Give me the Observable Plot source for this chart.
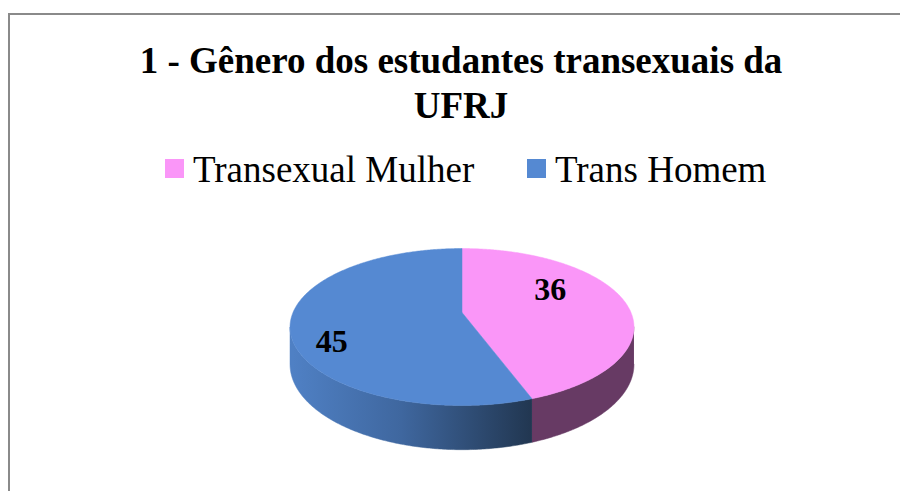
<!DOCTYPE html>
<html>
<head>
<meta charset="utf-8">
<script src="https://cdn.jsdelivr.net/npm/d3@7"></script>
<script src="https://cdn.jsdelivr.net/npm/@observablehq/plot@0.6"></script>
<style>
  html, body { margin: 0; padding: 0; background: #fff; overflow: hidden; }
  #page { position: relative; width: 900px; height: 491px; overflow: hidden; }
  #frame { position: absolute; left: 8px; top: 13px; width: 1000px; height: 600px;
           border-left: 2px solid #8a8a8a; border-top: 2px solid #8a8a8a; box-sizing: border-box; }
  #title { position: absolute; left: 0; width: 922px; top: 38px; text-align: center;
           font-family: "Liberation Serif", "Times New Roman", serif; font-weight: bold;
           font-size: 37px; line-height: 45px; color: #000; }
  #legend { position: absolute; top: 150px; left: 0; width: 900px; height: 40px;
            font-family: "Liberation Serif", "Times New Roman", serif; font-size: 37px; color: #000; }
  .sw { position: absolute; width: 19px; height: 19px; top: 9px; }
  .lab { position: absolute; top: 0; line-height: 40px; white-space: nowrap; }
  #chart { position: absolute; left: 0; top: 0; }
</style>
</head>
<body>
<div id="page">
  <div id="frame"></div>
  <div id="title"></div>
  <div id="legend"></div>
  <div id="chart"></div>
</div>
<script>
// ---- data ----
const categories = ["Transexual Mulher", "Trans Homem"];
const values = [36, 45];
const titleLines = ["1 - Gênero dos estudantes transexuais da", "UFRJ"];

// ---- styles / layout ----
const topColors = ["#fa96f8", "#5589d2"];
const sideColors = ["#673a64", "url(#blueSide)"];
const cx = 461.5, cy = 312, R = 169, Rt = 75.8;  // screen centre, radius, tilted radius
const k = 0.185;        // perspective strength (back of the pie is farther)
const h = 0.475;        // side height, in tilted-radius units
const labelOffsets = [[-13, -15], [-25, 21]];

// title
document.getElementById("title").innerHTML = titleLines.join("<br>");

// legend
const legendPos = [{sw: 165, text: 193}, {sw: 527, text: 555}];
const legend = document.getElementById("legend");
categories.forEach((c, i) => {
  const sw = document.createElement("div");
  sw.className = "sw"; sw.style.left = legendPos[i].sw + "px"; sw.style.background = topColors[i];
  const t = document.createElement("div");
  t.className = "lab"; t.style.left = legendPos[i].text + "px"; t.textContent = c;
  legend.appendChild(sw); legend.appendChild(t);
});

// pie geometry: unit circle, angle clockwise from top; X = sin a, Z = cos a (Z=1 at back)
function project(X, Z, drop) {
  const s = 1 / (1 + k * Z);
  return {x: X * s, y: (Z - drop) * s};
}
const arcs = d3.pie().sort(null).value(d => d.value)(categories.map((c, i) => ({c, value: values[i], i})));
function arcPts(a0, a1, drop) {
  const n = Math.max(2, Math.ceil((a1 - a0) / 0.01));
  return d3.range(n + 1).map(j => {
    const a = a0 + (a1 - a0) * j / n;
    return project(Math.sin(a), Math.cos(a), drop);
  });
}
const tops = arcs.map(a => [project(0, 0, 0), ...arcPts(a.startAngle, a.endAngle, 0), project(0, 0, 0)]);
const vis0 = Math.acos(-k), vis1 = 2 * Math.PI - Math.acos(-k);
const sides = arcs.map(a => {
  const s = Math.max(a.startAngle, vis0), e = Math.min(a.endAngle, vis1);
  if (e <= s) return null;
  return [...arcPts(s, e, 0), ...arcPts(s, e, h).reverse()];
});
const labels = arcs.map(a => {
  const m = (a.startAngle + a.endAngle) / 2;
  const p = project(0.62 * Math.sin(m), 0.62 * Math.cos(m), 0);
  return {x: p.x, y: p.y, text: String(a.data.value)};
});

const marks = [];
sides.forEach((pts, i) => {
  if (pts) marks.push(Plot.line(pts, {x: "x", y: "y", fill: sideColors[i], stroke: sideColors[i], strokeWidth: 0.5, curve: "linear"}));
});
tops.forEach((pts, i) => {
  marks.push(Plot.line(pts, {x: "x", y: "y", fill: topColors[i], stroke: topColors[i], strokeWidth: 0.5, curve: "linear"}));
});
labels.forEach((l, i) => {
  marks.push(Plot.text([l], {x: "x", y: "y", text: "text", dx: labelOffsets[i][0], dy: labelOffsets[i][1],
    fontSize: 32, fontWeight: "bold", fontFamily: "Liberation Serif, Times New Roman, serif", fill: "#000"}));
});

const svg = Plot.plot({
  width: 900, height: 491, margin: 0,
  x: {domain: [-1, 1], range: [cx - R, cx + R], axis: null},
  y: {domain: [-1, 1], range: [cy + Rt, cy - Rt], axis: null},
  style: {background: "transparent", overflow: "visible"},
  marks
});
// gradient for the blue side wall
const defs = d3.select(svg).insert("defs", ":first-child");
const g = defs.append("linearGradient").attr("id", "blueSide")
  .attr("gradientUnits", "userSpaceOnUse").attr("x1", cx - R).attr("x2", cx + R * 0.42).attr("y1", 0).attr("y2", 0);
g.append("stop").attr("offset", "0%").attr("stop-color", "#4f80c4");
g.append("stop").attr("offset", "45%").attr("stop-color", "#3f679f");
g.append("stop").attr("offset", "100%").attr("stop-color", "#213650");
document.getElementById("chart").appendChild(svg);
</script>
</body>
</html>
